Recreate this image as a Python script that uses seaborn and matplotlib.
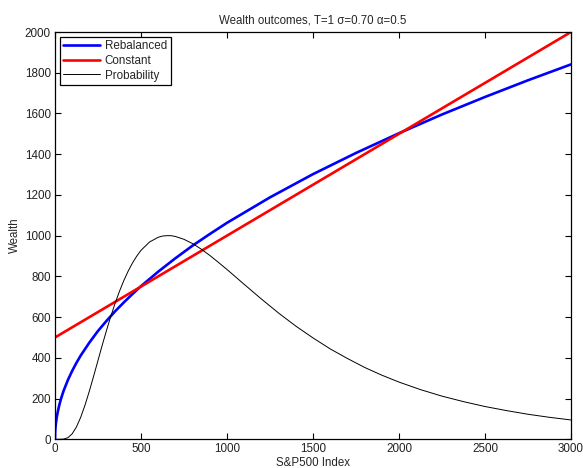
import matplotlib
matplotlib.use("Agg")
import matplotlib.pyplot as plt
import seaborn as sns
import pandas as pd

# Index levels and wealth for the rebalanced (alpha = 0.5) strategy
rebal_index = [0, 1, 2, 5, 10, 15, 25, 35, 50, 75, 100, 125, 150, 200, 250, 300,
               350, 400, 450, 500, 600, 700, 800, 900, 1000, 1250, 1500, 1750,
               2000, 2250, 2500, 2750, 3000]
rebal_wealth = [0, 34, 48, 75, 106, 130, 168, 199, 238, 291, 336, 376, 412, 475,
                532, 582, 629, 672, 713, 752, 823, 889, 951, 1008, 1063, 1188,
                1302, 1406, 1503, 1595, 1681, 1763, 1841]

# Buy-and-hold (constant) strategy
const_index = [0, 3000]
const_wealth = [500, 2000]

# Probability of each index level, scaled so the peak is 1000
prob_index = [0, 25, 50, 75, 100, 125, 150, 175, 200, 225, 250, 275, 300, 325,
              350, 375, 400, 425, 450, 475, 500, 550, 600, 625, 650, 675, 700,
              750, 800, 850, 900, 950, 1000, 1100, 1200, 1300, 1400, 1500, 1600,
              1700, 1800, 1900, 2000, 2125, 2250, 2375, 2500, 2625, 2750, 2875,
              3000]
prob_value = [0, 0, 1, 8, 27, 61, 109, 169, 237, 311, 387, 463, 536, 605, 669,
              727, 779, 825, 865, 899, 928, 969, 992, 998, 1000, 1000, 996, 982,
              961, 934, 903, 869, 834, 761, 689, 620, 556, 498, 444, 397, 353,
              315, 281, 244, 212, 185, 161, 141, 123, 108, 95]

title_text = "Wealth outcomes, T=1 \u03c3=0.70 \u03b1=0.5"

sns.set_style("ticks")
plt.rcParams["font.family"] = ["Liberation Sans", "DejaVu Sans"]

fig = plt.figure(figsize=(5.83, 4.68), dpi=100)
ax = fig.add_axes([0.0943, 0.0613, 0.8851, 0.8703])

df_rebal = pd.DataFrame({"S": rebal_index, "W": rebal_wealth})
df_const = pd.DataFrame({"S": const_index, "W": const_wealth})
df_prob = pd.DataFrame({"S": prob_index, "W": prob_value})

sns.lineplot(data=df_rebal, x="S", y="W", ax=ax, color=(0, 0, 1), linewidth=1.9,
             label="Rebalanced", sort=False)
sns.lineplot(data=df_const, x="S", y="W", ax=ax, color=(1, 0, 0), linewidth=1.9,
             label="Constant", sort=False)
sns.lineplot(data=df_prob, x="S", y="W", ax=ax, color="black", linewidth=0.7,
             label="Probability", sort=False)

ax.set_xlim(0, 3000)
ax.set_ylim(0, 2000)
ax.set_xticks(range(0, 3001, 500))
ax.set_yticks(range(0, 2001, 200))
ax.tick_params(direction="in", length=4, width=0.8, labelsize=8.4,
               top=True, right=True, color="black", labelcolor="#222222", pad=3)
for s in ax.spines.values():
    s.set_visible(True)
    s.set_linewidth(0.9)
    s.set_color("black")

ax.set_xlabel("S&P500 Index", fontsize=8.3, labelpad=1)
ax.set_ylabel("Wealth", fontsize=8.3, labelpad=3)
ax.set_title(title_text, fontsize=8.3, pad=6)

leg = ax.legend(loc="upper left", fontsize=8.4, frameon=True, fancybox=False,
                borderaxespad=0.4, handlelength=3.1, handletextpad=0.45,
                labelspacing=0.22, borderpad=0.32)
leg.get_frame().set_edgecolor("black")
leg.get_frame().set_linewidth(0.9)
leg.get_frame().set_alpha(1)

fig.savefig("out.png", dpi=100)
